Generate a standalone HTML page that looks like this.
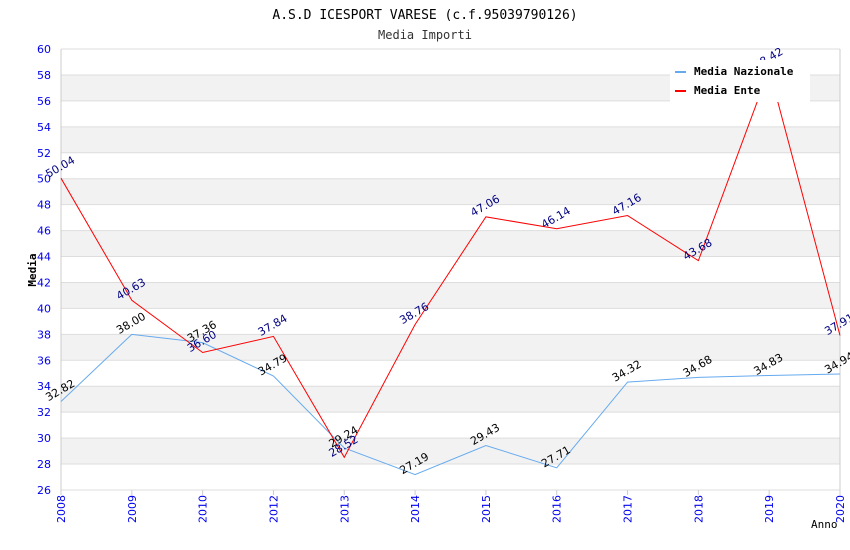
<!DOCTYPE html>
<html><head><meta charset="utf-8"><style>
body{margin:0;background:#fff;}
svg{display:block;font-family:"DejaVu Sans Mono","Liberation Mono",monospace;}
.s{font-family:"DejaVu Sans","Liberation Sans",sans-serif;}
</style></head><body>
<svg id="c" width="850" height="550" xmlns="http://www.w3.org/2000/svg">
<text x="425" y="19" text-anchor="middle" font-size="13" fill="#000">A.S.D ICESPORT VARESE (c.f.95039790126)</text>
<text x="425" y="39" text-anchor="middle" font-size="12" fill="#333">Media Importi</text>
<g id="bands"></g><g id="grid"></g><g id="axes"></g><g id="series"></g><g id="labels"></g>
<text x="36" y="270" transform="rotate(-90 36 270)" text-anchor="middle" font-size="11" font-weight="bold" fill="#000">Media</text>
<text x="811" y="528" font-size="11" fill="#000">Anno</text>
<g>
<rect x="670" y="60" width="140" height="42" fill="#fff"/>
<line x1="675" y1="72" x2="686" y2="72" stroke="#66aaee" stroke-width="2"/>
<text x="694" y="75" font-size="11" font-weight="bold">Media Nazionale</text>
<line x1="675" y1="91" x2="686" y2="91" stroke="#ff0000" stroke-width="2"/>
<text x="694" y="94" font-size="11" font-weight="bold">Media Ente</text>
</g>
</svg>
<script>
const categories=["2008","2009","2010","2012","2013","2014","2015","2016","2017","2018","2019","2020"];
const nazionale=[32.82,38.00,37.36,34.79,29.24,27.19,29.43,27.71,34.32,34.68,34.83,34.94];
const ente=[50.04,40.63,36.60,37.84,28.52,38.76,47.06,46.14,47.16,43.68,58.42,37.91];
const yTicks=[26,28,30,32,34,36,38,40,42,44,46,48,50,52,54,56,58,60];
const NS="http://www.w3.org/2000/svg";
const L=61,R=840,T=49,B=490,yMin=26,yMax=60;
const xs=i=>L+i*(R-L)/(categories.length-1);
const ys=v=>B-(v-yMin)*(B-T)/(yMax-yMin);
function mk(tag,attrs,parent){const e=document.createElementNS(NS,tag);for(const k in attrs)e.setAttribute(k,attrs[k]);document.getElementById(parent).appendChild(e);return e;}
yTicks.forEach((t,i)=>{
 if(i<yTicks.length-1 && (t%4===0)){const r=mk('rect',{x:L,y:ys(t+2),width:R-L,height:ys(t)-ys(t+2),fill:'#f2f2f2'},'bands');
 
 }
 const g=mk('line',{x1:L,x2:R,y1:ys(t),y2:ys(t),stroke:'#dddddd'},'grid');
 
 
 const tx=mk('text',{x:L-10,y:ys(t)+4,'text-anchor':'end','font-size':11,fill:'#0000ee',class:'s'},'axes');
 tx.textContent=t;
 
 
});
mk('line',{x1:L,x2:L,y1:T,y2:B,stroke:'#ccc'},'axes');
mk('line',{x1:R,x2:R,y1:T,y2:B,stroke:'#ccc'},'axes');
categories.forEach((c,i)=>{
 const x=xs(i);
 mk('line',{x1:x,x2:x,y1:B,y2:B+5,stroke:'#ccc'},'axes');
 const tx=mk('text',{x:x+4,y:B+5,transform:`rotate(-90 ${x+4} ${B+5})`,'text-anchor':'end','font-size':11,fill:'#0000ee',class:'s'},'axes');
 tx.textContent=c;
 
 
});
function series(vals,color,lab,name){
 const p=mk('polyline',{points:vals.map((v,i)=>xs(i)+','+ys(v)).join(' '),fill:'none',stroke:color,'stroke-width':1},'series');
 
 
 vals.forEach((v,i)=>{
  const x=xs(i)+1,y=ys(v)-8;
  const t=mk('text',{x:x,y:y,transform:`rotate(-30 ${x} ${y})`,'text-anchor':'middle','font-size':11,fill:lab,class:'s'},'labels');
  t.textContent=v.toFixed(2);
  
  
 });
}
series(nazionale,'#66aaee','#000','line-nazionale');
series(ente,'#ff0000','#000080','line-ente');
</script>
</body></html>
